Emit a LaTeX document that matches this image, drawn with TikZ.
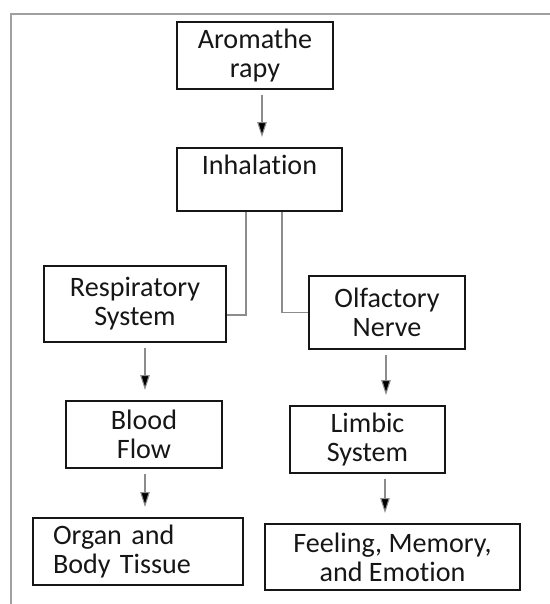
\documentclass[tikz,border=0pt]{standalone}
\usepackage{fontspec}
\setmainfont[Ligatures=NoCommon]{Carlito}
\usepackage{tikz}
\usetikzlibrary{arrows.meta,calc}
\definecolor{Frame}{HTML}{A0A0A0}
\definecolor{Link}{HTML}{8C8C8C}
\definecolor{Ink}{HTML}{161616}

\begin{document}
\begin{tikzpicture}[font=\fontsize{16}{16.5}\selectfont,
    stage/.style={draw=Ink,line width=1.1pt,text=Ink,align=center,inner sep=0pt},
    flow/.style={draw=Link,line width=.6pt,-{Triangle[length=.3cm,width=.19cm,fill=black]},shorten <=.1cm,shorten >=.2cm},
    link/.style={draw=Link,line width=.8pt}]
        \useasboundingbox (0,0) rectangle (11,12.08);
        \draw[Frame,line width=1.2pt] (.22,0) |- (11,11.8);
        \node[stage,minimum width=3.12cm,minimum height=1.34cm] (aroma) at (5.10,10.97) {Aromathe\\rapy};
        \node[stage,minimum width=3.3cm,minimum height=1.26cm] (inhal) at (5.19,8.49) {Inhalation\\~};
        \node[stage,minimum width=3.64cm,minimum height=1.52cm] (resp) at (2.70,6.0) {Respiratory\\System};
        \node[stage,minimum width=3.12cm,minimum height=1.46cm] (olf) at (7.74,5.83) {Olfactory\\Nerve};
        \node[stage,minimum width=3.12cm,minimum height=1.34cm] (blood) at (2.88,3.39) {Blood\\Flow};
        \node[stage,minimum width=3.1cm,minimum height=1.34cm] (limbic) at (7.35,3.29) {Limbic\\System};
        \node[stage,align=left,text width=3.4cm,inner xsep=.4cm,minimum height=1.34cm] (organ) at (2.76,1.05) {Organ and\\Body Tissue};
        \node[stage,minimum width=5.1cm,minimum height=1.32cm] (feel) at (7.85,.94) {Feeling, Memory,\\and Emotion};
        % arrows down the two branches
        \draw[flow] ([xshift=.14cm]aroma.south) -- ([xshift=.14cm]aroma.south |- inhal.north);
        \draw[flow] ([xshift=.2cm]resp.south) -- ([xshift=.2cm]resp.south |- blood.north);
        \draw[flow] ([xshift=.02cm]blood.south) -- ([xshift=.02cm]blood.south |- organ.north);
        \draw[flow] ([xshift=-.02cm]olf.south) -- ([xshift=-.02cm]olf.south |- limbic.north);
        \draw[flow] ([xshift=.35cm]limbic.south) -- ([xshift=.35cm]limbic.south |- feel.north);
        % split under inhalation
        \draw[link] ([xshift=-.27cm]inhal.south) |- ([yshift=-.22cm]resp.east);
        \draw[link] ([xshift=.45cm]inhal.south) |- (olf.west);
      \end{tikzpicture}
\end{document}
